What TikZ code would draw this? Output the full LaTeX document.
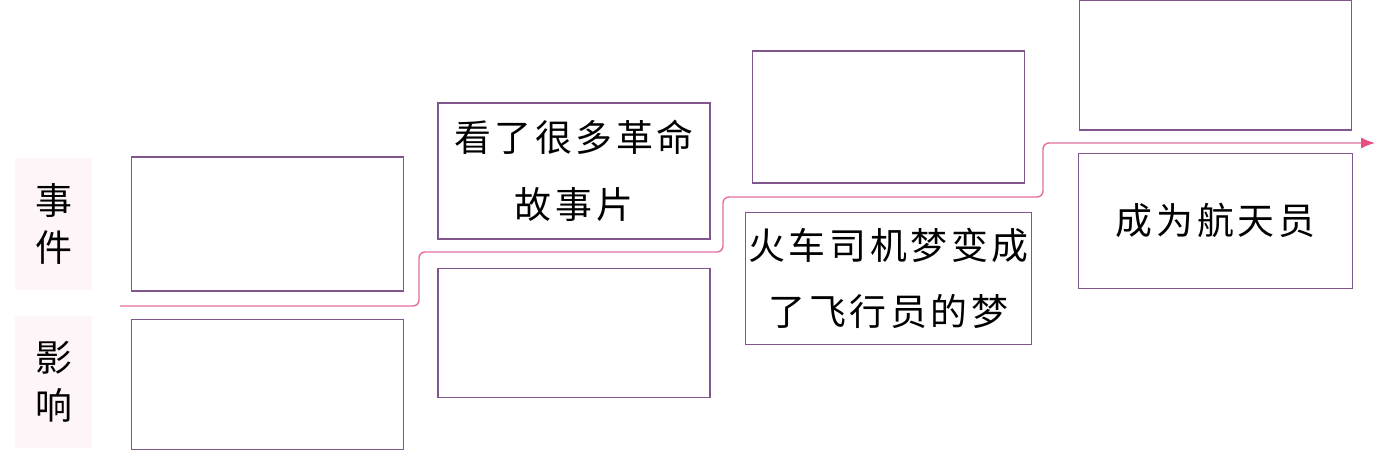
\documentclass[tikz,border=0pt]{standalone}
\usepackage{fontspec}
\newfontfamily\cjk[LetterSpace=10]{Noto Sans CJK SC}
\usetikzlibrary{arrows.meta,positioning}
\definecolor{boxline}{RGB}{128,86,140}
\definecolor{timeline}{RGB}{228,110,160}
\definecolor{arrowpink}{RGB}{232,78,130}
\definecolor{labelbg}{RGB}{253,245,248}

\tikzset{
  cell/.style={draw=boxline, line width=0.8pt, minimum width=5.44cm, minimum height=2.68cm, inner sep=0pt, align=center, font=\cjk\fontsize{21}{38}\selectfont},
  side/.style={fill=labelbg, minimum width=1.54cm, minimum height=2.64cm, inner sep=0pt, align=center, font=\cjk\fontsize{21}{27}\selectfont},
}

\begin{document}
\begin{tikzpicture}[x=0.02cm, y=-0.02cm]
    \useasboundingbox (0,0) rectangle (1393,457);
    % row labels
    \node[side] (lab1) at (53.5,224) {事\\件};
    \node[side] (lab2) at (53.5,382) {影\\响};
    % event boxes
    \node[cell] (ev1) at (267.5,224) {};
    \node[cell, minimum height=2.72cm] (ev2) at (574,171) {看了很多革命\\故事片};
    \node[cell, minimum height=2.64cm] (ev3) at (888.5,117) {};
    \node[cell, minimum height=2.6cm] (ev4) at (1215.5,65) {};
    % influence boxes
    \node[cell, minimum height=2.6cm, below=0.54cm of ev1] (inf1) {};
    \node[cell, minimum height=2.58cm, below=0.56cm of ev2] (inf2) {};
    \node[cell, minimum width=5.72cm, minimum height=2.64cm, below=0.56cm of ev3] (inf3) {火车司机梦变成\\了飞行员的梦};
    \node[cell, minimum width=5.48cm, minimum height=2.7cm, below=0.44cm of ev4] (inf4) {成为航天员};
    % time line
    \coordinate (t0) at (120,306);
    \coordinate (t1) at (1375,143);
    \draw[timeline, line width=0.8pt, rounded corners=0.12cm, -{Latex[length=0.28cm, width=0.22cm, color=arrowpink]}]
        (t0) -| (419,252) -| (723,197) -| (1043,143) -- (t1);
\end{tikzpicture}
\end{document}
